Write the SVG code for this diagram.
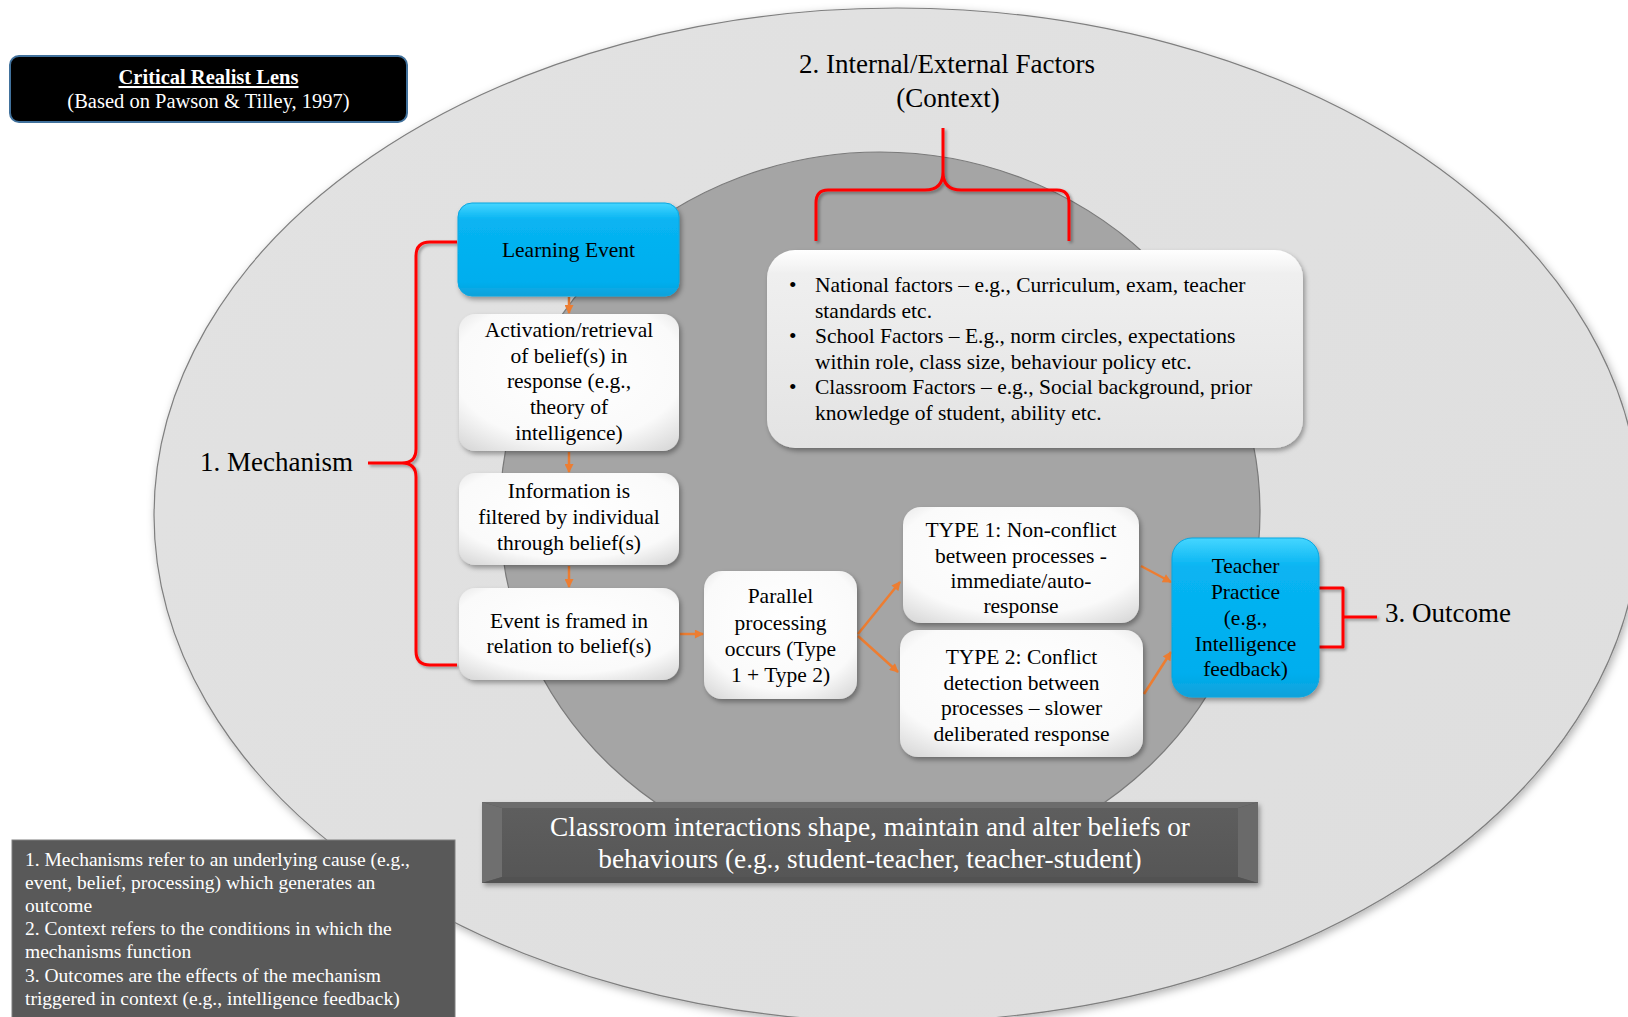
<svg xmlns="http://www.w3.org/2000/svg" width="1628" height="1017" viewBox="0 0 1628 1017">
  <defs>
    <style>
      .serif { font-family: "Liberation Serif", "Times New Roman", serif; }
      .bt { font-family: "Liberation Serif", "Times New Roman", serif; font-size: 21.5px; fill: #000; text-anchor: middle; }
      .lbl { font-family: "Liberation Serif", "Times New Roman", serif; font-size: 27px; fill: #000; }
      .wt { font-family: "Liberation Serif", "Times New Roman", serif; fill: #fff; }
      .brace { fill: none; stroke: #ff0000; stroke-width: 3; stroke-linejoin: round; stroke-linecap: butt; }
      .arrow { fill: none; stroke: #ed7d31; stroke-width: 2.5; marker-end: url(#ah); }
      .wbox { fill: url(#gWhite); filter: url(#sh); }
      .bbox { fill: url(#gBlue); stroke: #0aa6e0; stroke-width: 1; filter: url(#sh); }
    </style>
    <linearGradient id="gOuter" x1="0" y1="0" x2="1" y2="1">
      <stop offset="0" stop-color="#e2e2e2"/>
      <stop offset="1" stop-color="#dedede"/>
    </linearGradient>
    <radialGradient id="gWhite" cx="0.5" cy="0.4" r="0.75">
      <stop offset="0" stop-color="#ffffff"/>
      <stop offset="0.7" stop-color="#fafafa"/>
      <stop offset="1" stop-color="#d8d8d8"/>
    </radialGradient>
    <linearGradient id="gCtx" x1="0" y1="0" x2="0" y2="1">
      <stop offset="0" stop-color="#ffffff"/>
      <stop offset="0.12" stop-color="#efefef"/>
      <stop offset="1" stop-color="#e3e3e3"/>
    </linearGradient>
    <linearGradient id="gBlue" x1="0" y1="0" x2="0" y2="1">
      <stop offset="0" stop-color="#45d6ff"/>
      <stop offset="0.18" stop-color="#08b4f2"/>
      <stop offset="0.85" stop-color="#00aeee"/>
      <stop offset="1" stop-color="#0fa2da"/>
    </linearGradient>
    <linearGradient id="gBanner" x1="0" y1="0" x2="0" y2="1">
      <stop offset="0" stop-color="#5e5e5e"/>
      <stop offset="1" stop-color="#565656"/>
    </linearGradient>
    <filter id="sh" x="-20%" y="-20%" width="140%" height="140%">
      <feDropShadow dx="2" dy="3" stdDeviation="2.5" flood-color="#000" flood-opacity="0.35"/>
    </filter>
    <filter id="shSoft" x="-10%" y="-10%" width="120%" height="120%">
      <feDropShadow dx="2" dy="3" stdDeviation="4" flood-color="#000" flood-opacity="0.3"/>
    </filter>
    <filter id="shLine" x="-20%" y="-20%" width="140%" height="140%">
      <feDropShadow dx="2" dy="2" stdDeviation="1.5" flood-color="#000" flood-opacity="0.35"/>
    </filter>
    <marker id="ah" viewBox="0 0 10 10" refX="9" refY="5" markerWidth="10" markerHeight="9" markerUnits="userSpaceOnUse" orient="auto">
      <path d="M0,0 L10,5 L0,10 Z" fill="#ed7d31"/>
    </marker>
  </defs>

  <rect width="1628" height="1017" fill="#ffffff"/>

  <!-- context rings -->
  <g id="outer-context">
    <ellipse cx="897" cy="515" rx="743" ry="507" fill="url(#gOuter)" stroke="#7f7f7f" stroke-width="1.2" filter="url(#shSoft)"/>
  </g>
  <g id="inner-context">
    <ellipse cx="880" cy="512" rx="380" ry="360" fill="#a5a5a5" stroke="#7a7a7a" stroke-width="1.2"/>
  </g>

  <!-- legend -->
  <g id="legend">
    <rect x="12" y="840" width="443" height="190" fill="#595959" stroke="#7f7f7f" stroke-width="1"/>
    <g class="wt" font-size="19.5">
      <text x="25" y="866">1. Mechanisms refer to an underlying cause (e.g.,</text>
      <text x="25" y="889">event, belief, processing) which generates an</text>
      <text x="25" y="912">outcome</text>
      <text x="25" y="935">2. Context refers to the conditions in which the</text>
      <text x="25" y="958">mechanisms function</text>
      <text x="25" y="982">3. Outcomes are the effects of the mechanism</text>
      <text x="25" y="1005">triggered in context (e.g., intelligence feedback)</text>
    </g>
  </g>

  <!-- title -->
  <g id="title">
    <rect x="10" y="56" width="397" height="66" rx="9" fill="#000" stroke="#41719c" stroke-width="2"/>
    <text class="wt" x="208.5" y="84" font-size="20.5" font-weight="bold" text-anchor="middle" text-decoration="underline">Critical Realist Lens</text>
    <text class="wt" x="208.5" y="108" font-size="20.5" text-anchor="middle">(Based on Pawson &amp; Tilley, 1997)</text>
  </g>

  <!-- labels -->
  <g id="label-context">
    <text class="lbl" x="947" y="73" text-anchor="middle">2. Internal/External Factors</text>
    <text class="lbl" x="948" y="107" text-anchor="middle">(Context)</text>
  </g>
  <g id="label-mechanism">
    <text class="lbl" x="200" y="471">1. Mechanism</text>
  </g>
  <g id="label-outcome">
    <text class="lbl" x="1385" y="622">3. Outcome</text>
  </g>

  <!-- connectors: braces and arrows -->
  <g id="connectors">
    <g filter="url(#shLine)">
      <path class="brace" d="M457,242 L430,242 Q416,242 416,256 L416,449 Q416,463 402,463 L368,463 M402,463 Q416,463 416,477 L416,651 Q416,665 430,665 L457,665"/>
      <path class="brace" d="M943,128 L943,172 Q943,190 925,190 L828,190 Q816,190 816,203 L816,241 M943,172 Q943,190 961,190 L1057,190 Q1069,190 1069,203 L1069,241"/>
      <path class="brace" d="M1319,588 L1343,588 L1343,647 L1319,647 M1343,617 L1377,617" stroke-linejoin="miter"/>
    </g>
    <line class="arrow" x1="569" y1="297" x2="569" y2="313"/>
    <line class="arrow" x1="569" y1="452" x2="569" y2="472"/>
    <line class="arrow" x1="569" y1="566" x2="569" y2="587"/>
    <line class="arrow" x1="680" y1="634" x2="703" y2="634"/>
    <line class="arrow" x1="858" y1="634" x2="900" y2="582"/>
    <line class="arrow" x1="858" y1="636" x2="898" y2="672"/>
    <line class="arrow" x1="1141" y1="566" x2="1171" y2="582"/>
    <line class="arrow" x1="1144" y1="694" x2="1171" y2="652"/>
  </g>

  <!-- nodes -->
  <g id="learning-event">
    <rect class="bbox" x="458" y="203" width="221" height="93" rx="14"/>
    <text class="bt" x="568.5" y="257">Learning Event</text>
  </g>
  <g id="activation">
    <rect class="wbox" x="459" y="314" width="220" height="137" rx="16"/>
    <text class="bt" x="569" y="337">Activation/retrieval</text>
    <text class="bt" x="569" y="363">of belief(s) in</text>
    <text class="bt" x="569" y="388">response (e.g.,</text>
    <text class="bt" x="569" y="414">theory of</text>
    <text class="bt" x="569" y="440">intelligence)</text>
  </g>
  <g id="filtering">
    <rect class="wbox" x="459" y="473" width="220" height="92" rx="16"/>
    <text class="bt" x="569" y="498">Information is</text>
    <text class="bt" x="569" y="524">filtered by individual</text>
    <text class="bt" x="569" y="550">through belief(s)</text>
  </g>
  <g id="framing">
    <rect class="wbox" x="459" y="588" width="220" height="92" rx="16"/>
    <text class="bt" x="569" y="628">Event is framed in</text>
    <text class="bt" x="569" y="653">relation to belief(s)</text>
  </g>
  <g id="parallel">
    <rect class="wbox" x="704" y="571" width="153" height="128" rx="18"/>
    <text class="bt" x="780.5" y="603">Parallel</text>
    <text class="bt" x="780.5" y="630">processing</text>
    <text class="bt" x="780.5" y="656">occurs (Type</text>
    <text class="bt" x="780.5" y="682">1 + Type 2)</text>
  </g>
  <g id="type1">
    <rect class="wbox" x="903" y="507" width="236" height="116" rx="18"/>
    <text class="bt" x="1021" y="537">TYPE 1: Non-conflict</text>
    <text class="bt" x="1021" y="563">between processes -</text>
    <text class="bt" x="1021" y="588">immediate/auto-</text>
    <text class="bt" x="1021" y="613">response</text>
  </g>
  <g id="type2">
    <rect class="wbox" x="900" y="630" width="243" height="127" rx="18"/>
    <text class="bt" x="1021.5" y="664">TYPE 2: Conflict</text>
    <text class="bt" x="1021.5" y="690">detection between</text>
    <text class="bt" x="1021.5" y="715">processes – slower</text>
    <text class="bt" x="1021.5" y="741">deliberated response</text>
  </g>
  <g id="teacher-practice">
    <rect class="bbox" x="1172" y="538" width="147" height="159" rx="20"/>
    <text class="bt" x="1245.5" y="573">Teacher</text>
    <text class="bt" x="1245.5" y="599">Practice</text>
    <text class="bt" x="1245.5" y="625">(e.g.,</text>
    <text class="bt" x="1245.5" y="651">Intelligence</text>
    <text class="bt" x="1245.5" y="676">feedback)</text>
  </g>
  <g id="context-factors">
    <rect x="767" y="250" width="536" height="198" rx="28" fill="url(#gCtx)" filter="url(#sh)"/>
    <g class="serif" font-size="21.5" fill="#000">
      <text x="789" y="292">•</text>
      <text x="815" y="292">National factors – e.g., Curriculum, exam, teacher</text>
      <text x="815" y="318">standards etc.</text>
      <text x="789" y="343">•</text>
      <text x="815" y="343">School Factors – E.g., norm circles, expectations</text>
      <text x="815" y="369">within role, class size, behaviour policy etc.</text>
      <text x="789" y="394">•</text>
      <text x="815" y="394">Classroom Factors – e.g., Social background, prior</text>
      <text x="815" y="420">knowledge of student, ability etc.</text>
    </g>
  </g>

  <!-- interaction banner with bevelled edges -->
  <g id="interactions">
    <rect x="482" y="802" width="776" height="81" fill="#595959" filter="url(#sh)"/>
    <polygon points="482,802 1258,802 1238,808 502,808" fill="#6c6c6c"/>
    <polygon points="482,802 502,808 502,877 482,883" fill="#6f6f6f"/>
    <polygon points="1258,802 1238,808 1238,877 1258,883" fill="#6a6a6a"/>
    <polygon points="482,883 1258,883 1238,877 502,877" fill="#525252"/>
    <rect x="502" y="808" width="736" height="69" fill="url(#gBanner)"/>
    <text class="wt" x="870" y="836" font-size="27.3" text-anchor="middle">Classroom interactions shape, maintain and alter beliefs or</text>
    <text class="wt" x="870" y="868" font-size="27.3" text-anchor="middle">behaviours (e.g., student-teacher, teacher-student)</text>
  </g>
</svg>
